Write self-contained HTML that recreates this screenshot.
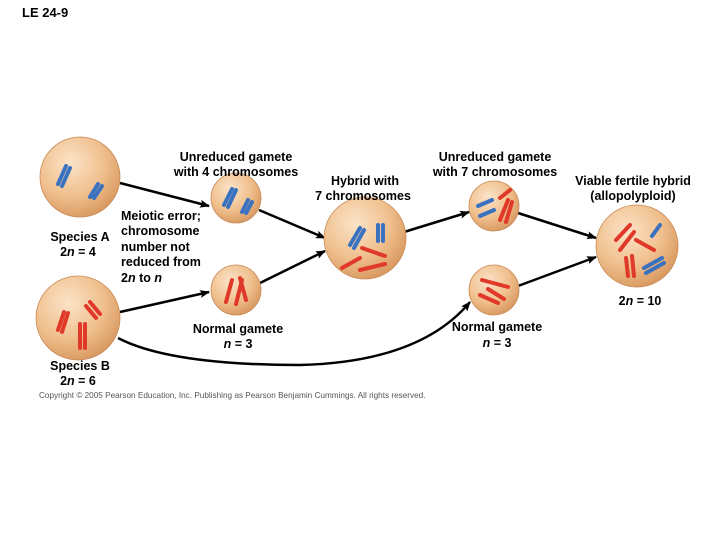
<!DOCTYPE html><html><head><style>body{margin:0;width:720px;height:540px;background:#fff;overflow:hidden}</style></head><body>
<svg width="720" height="540" viewBox="0 0 720 540" xmlns="http://www.w3.org/2000/svg" font-family="Liberation Sans, sans-serif">
<defs>
<radialGradient id="c" cx="0.38" cy="0.32" r="0.7"><stop offset="0" stop-color="#fbe3c8"/><stop offset="0.6" stop-color="#f0c08e"/><stop offset="1" stop-color="#d99a62"/></radialGradient>
<marker id="a" markerWidth="10" markerHeight="8" refX="9" refY="4" orient="auto" markerUnits="userSpaceOnUse"><path d="M0,0 L10,4 L0,8 L2,4z" fill="#000"/></marker>
</defs>
<text x="22" y="17" font-size="13" font-weight="bold">LE 24-9</text>
<g stroke="#000" stroke-width="2.5" fill="none" marker-end="url(#a)">
<line x1="120" y1="183" x2="209" y2="206"/>
<line x1="259" y1="210" x2="325" y2="238"/>
<line x1="120" y1="312" x2="209" y2="292"/>
<line x1="260" y1="283" x2="325" y2="251"/>
<line x1="404" y1="232" x2="469" y2="212"/>
<line x1="518" y1="213" x2="596" y2="238"/>
<line x1="518" y1="286" x2="596" y2="257"/>
<path d="M118,338 Q170,365 300,365 Q420,362 470,302"/>
</g>
<g stroke="#c98a55" stroke-width="0.8">
<circle cx="80" cy="177" r="40" fill="url(#c)"/>
<circle cx="78" cy="318" r="42" fill="url(#c)"/>
<circle cx="236" cy="198" r="25" fill="url(#c)"/>
<circle cx="236" cy="290" r="25" fill="url(#c)"/>
<circle cx="365" cy="238" r="41" fill="url(#c)"/>
<circle cx="494" cy="206" r="25" fill="url(#c)"/>
<circle cx="494" cy="290" r="25" fill="url(#c)"/>
<circle cx="637" cy="246" r="41" fill="url(#c)"/>
</g>
<g stroke-width="4" stroke-linecap="round">
<g stroke="#3a72c0">
<line x1="58" y1="184" x2="66" y2="166"/><line x1="62" y1="186" x2="70" y2="168"/>
<line x1="90" y1="197" x2="98" y2="184"/><line x1="94" y1="198" x2="102" y2="186"/>
<line x1="224" y1="205" x2="232" y2="189"/><line x1="228" y1="207" x2="236" y2="190"/>
<line x1="242" y1="212" x2="248" y2="200"/><line x1="246" y1="213" x2="252" y2="202"/>
<line x1="350" y1="245" x2="360" y2="228"/><line x1="354" y1="248" x2="364" y2="230"/>
<line x1="378" y1="225" x2="378" y2="241"/><line x1="383" y1="225" x2="383" y2="241"/>
<line x1="478" y1="206" x2="492" y2="200"/><line x1="480" y1="216" x2="494" y2="210"/>
<line x1="652" y1="236" x2="660" y2="225"/><line x1="644" y1="268" x2="662" y2="258"/><line x1="646" y1="273" x2="664" y2="263"/>
</g>
<g stroke="#e0392a">
<line x1="58" y1="330" x2="64" y2="312"/><line x1="62" y1="332" x2="68" y2="313"/>
<line x1="86" y1="306" x2="96" y2="318"/><line x1="90" y1="302" x2="100" y2="314"/>
<line x1="80" y1="324" x2="80" y2="348"/><line x1="85" y1="324" x2="85" y2="348"/>
<line x1="226" y1="302" x2="232" y2="280"/><line x1="236" y1="304" x2="242" y2="280"/><line x1="246" y1="300" x2="240" y2="278"/>
<line x1="362" y1="248" x2="385" y2="256"/><line x1="342" y1="268" x2="360" y2="258"/><line x1="360" y1="270" x2="385" y2="264"/>
<line x1="500" y1="198" x2="510" y2="190"/><line x1="500" y1="220" x2="508" y2="200"/><line x1="506" y1="222" x2="512" y2="202"/>
<line x1="482" y1="280" x2="508" y2="287"/><line x1="488" y1="289" x2="504" y2="299"/><line x1="480" y1="295" x2="498" y2="303"/>
<line x1="616" y1="240" x2="630" y2="225"/><line x1="620" y1="250" x2="634" y2="232"/><line x1="636" y1="240" x2="654" y2="250"/><line x1="626" y1="258" x2="628" y2="276"/><line x1="632" y1="256" x2="634" y2="276"/>
</g></g>
<g font-size="12.5" font-weight="bold" text-anchor="middle">
<text x="236" y="161">Unreduced gamete</text><text x="236" y="176">with 4 chromosomes</text>
<text x="365" y="185">Hybrid with</text><text x="363" y="200">7 chromosomes</text>
<text x="495" y="161">Unreduced gamete</text><text x="495" y="176">with 7 chromosomes</text>
<text x="633" y="185">Viable fertile hybrid</text><text x="633" y="200">(allopolyploid)</text>
<text x="640" y="305">2<tspan font-style="italic">n</tspan> = 10</text>
<text x="238" y="333">Normal gamete</text><text x="238" y="348"><tspan font-style="italic">n</tspan> = 3</text>
<text x="497" y="331">Normal gamete</text><text x="497" y="347"><tspan font-style="italic">n</tspan> = 3</text>
<text x="80" y="241">Species A</text><text x="78" y="256">2<tspan font-style="italic">n</tspan> = 4</text>
<text x="80" y="370">Species B</text><text x="78" y="385">2<tspan font-style="italic">n</tspan> = 6</text>
</g>
<g font-size="12.5" font-weight="bold">
<text x="121" y="220">Meiotic error;</text><text x="121" y="235">chromosome</text><text x="121" y="251">number not</text><text x="121" y="266">reduced from</text><text x="121" y="282">2<tspan font-style="italic">n</tspan> to <tspan font-style="italic">n</tspan></text>
</g>
<text x="39" y="398" font-size="8.2" fill="#555">Copyright © 2005 Pearson Education, Inc. Publishing as Pearson Benjamin Cummings. All rights reserved.</text>
</svg>
</body></html>
